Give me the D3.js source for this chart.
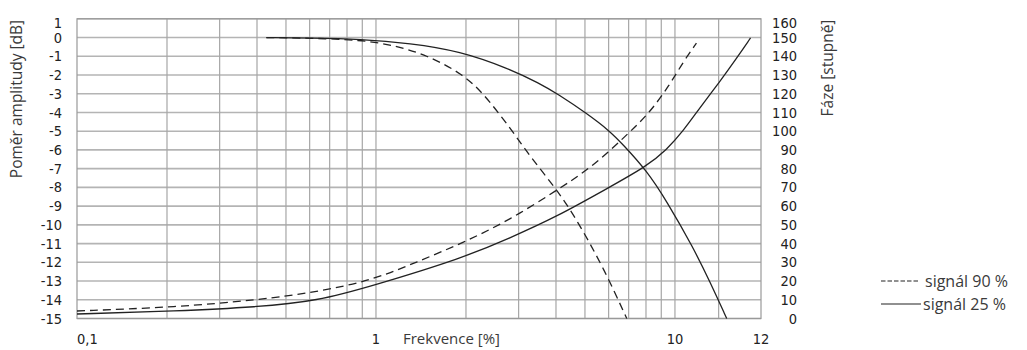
<!DOCTYPE html>
<html>
<head>
<meta charset="utf-8">
<script src="https://cdnjs.cloudflare.com/ajax/libs/d3/7.8.5/d3.min.js"></script>
<style>
    body { margin: 0; background: #fff; }
    .tick { font-family: 'Liberation Sans Narrow', 'Arial Narrow', 'DejaVu Sans Condensed', sans-serif; font-size: 14.5px; fill: #222; }
    .title { font-family: 'Open Sans', 'Noto Sans', sans-serif; font-size: 15.5px; fill: #3a3a3a; }
</style>
</head>
<body>
<svg width="1027" height="350"></svg>
<script>
'use strict'

// frequency [%] vs amplitude [dB] and phase [deg]
let amp90 = [[0.43, 0], [0.6, -0.03], [0.89, -0.13], [1.14, -0.4], [1.48, -0.93], [1.95, -1.95],
    [2.28, -2.96], [2.8, -4.78], [3.29, -6.4], [4.04, -8.14], [4.7, -9.74], [5.75, -12.25], [6.9, -15]];
let amp25 = [[0.43, 0], [0.6, -0.02], [0.89, -0.08], [1.3, -0.3], [1.91, -0.72], [2.76, -1.63],
    [3.53, -2.45], [4.04, -3.0], [5.07, -4.05], [6.06, -5.0], [6.69, -5.7], [8.04, -7.1],
    [9.36, -8.7], [11.5, -11.2], [13.1, -13.05], [14.9, -15]];
let phase90 = [[0.1, 4], [0.216, 6.1], [0.4, 9.9], [0.635, 14.1], [0.98, 20.6], [1.37, 30.2],
    [1.95, 40.3], [2.8, 52.6], [4.04, 68.6], [5.29, 80.9], [6.9, 98], [8.22, 109.7],
    [9.6, 124.7], [10.6, 136.4], [11.8, 147]];
let phase25 = [[0.1, 2.4], [0.216, 4], [0.4, 6.1], [0.635, 9.3], [0.98, 17.6], [1.95, 32.3],
    [2.8, 42.9], [4.04, 54.5], [5.9, 69.2], [8.04, 81.2], [9.36, 90], [10.6, 99.6],
    [12.1, 112.4], [14.1, 126.3], [16.1, 139.1], [17.9, 149.8]];

let xTicks = [0.1, 1, 10, 19.4];
let xTickLabels = ['0,1', '1', '10', '12'];
let xGrid = [0.2, 0.3, 0.4, 0.5, 0.6, 0.7, 0.8, 0.9, 1, 2, 3, 4, 5, 6, 7, 8, 9, 10, 14];
let ampTicks = d3.range(1, -16, -1);
let phaseTicks = d3.range(160, -1, -10);

let legendLabels = ['signál 90 %', 'signál 25 %'];

let svg = d3.select('svg');
let plotLeft = 77, plotRight = 761, plotTop = 18.8, plotBottom = 318.5;

let x = d3.scaleLog().domain([0.1, 19.4]).range([plotLeft, plotRight]);
let yAmp = d3.scaleLinear().domain([-15, 1]).range([plotBottom, plotTop]);
let yPhase = d3.scaleLinear().domain([0, 160]).range([plotBottom, plotTop]);

let grid = svg.append('g');

grid.selectAll('line.h')
    .data(ampTicks)
    .enter().append('line')
    .attr('class', 'h')
    .attr('x1', plotLeft).attr('x2', plotRight)
    .attr('y1', function(d) { return yAmp(d); })
    .attr('y2', function(d) { return yAmp(d); })
    .style('stroke', '#b4b4b4')
    .style('stroke-width', 1.6);

grid.selectAll('line.v')
    .data(xGrid)
    .enter().append('line')
    .attr('class', 'v')
    .attr('x1', function(d) { return x(d); })
    .attr('x2', function(d) { return x(d); })
    .attr('y1', plotTop).attr('y2', plotBottom)
    .style('stroke', '#a6a6a6')
    .style('stroke-width', 1.2);

svg.append('rect')
    .attr('x', plotLeft).attr('y', plotTop)
    .attr('width', plotRight - plotLeft).attr('height', plotBottom - plotTop)
    .style('fill', 'none')
    .style('stroke', '#999')
    .style('stroke-width', 1.2);

// axes labels
svg.append('g').selectAll('text')
    .data(ampTicks)
    .enter().append('text')
    .attr('class', 'tick')
    .attr('x', 62)
    .attr('y', function(d) { return Math.max(yAmp(d), 23); })
    .attr('dy', '0.35em')
    .attr('text-anchor', 'end')
    .text(function(d) { return d; });

svg.append('g').selectAll('text')
    .data(phaseTicks)
    .enter().append('text')
    .attr('class', 'tick')
    .attr('x', 797)
    .attr('y', function(d) { return Math.max(yPhase(d), 23); })
    .attr('dy', '0.35em')
    .attr('text-anchor', 'end')
    .text(function(d) { return d; });

svg.append('g').selectAll('text')
    .data(xTicks)
    .enter().append('text')
    .attr('class', 'tick')
    .attr('x', function(d) { return x(d); })
    .attr('y', 344)
    .attr('text-anchor', function(d, i) { return i === 0 ? 'start' : 'middle'; })
    .text(function(d, i) { return xTickLabels[i]; });

svg.append('text')
    .attr('class', 'title')
    .attr('transform', 'translate(22,99) rotate(-90)')
    .attr('text-anchor', 'middle')
    .text('Poměr amplitudy [dB]');

svg.append('text')
    .attr('class', 'title')
    .attr('transform', 'translate(833,68) rotate(-90)')
    .attr('text-anchor', 'middle')
    .text('Fáze [stupně]');

svg.append('text')
    .attr('class', 'title')
    .attr('x', 403).attr('y', 344)
    .style('font-size', '15px')
    .text('Frekvence [%]');

// curves
let ampLine = d3.line()
    .x(function(d) { return x(d[0]); })
    .y(function(d) { return yAmp(d[1]); })
    .curve(d3.curveBasis);

let phaseLine = d3.line()
    .x(function(d) { return x(d[0]); })
    .y(function(d) { return yPhase(d[1]); })
    .curve(d3.curveBasis);

let curves = [
    { d: ampLine(amp90), dash: '8,5' },
    { d: ampLine(amp25), dash: null },
    { d: phaseLine(phase90), dash: '8,5' },
    { d: phaseLine(phase25), dash: null }
];

svg.append('g').selectAll('path')
    .data(curves)
    .enter().append('path')
    .attr('d', function(d) { return d.d; })
    .style('fill', 'none')
    .style('stroke', '#222')
    .style('stroke-width', 1.3)
    .style('stroke-dasharray', function(d) { return d.dash; });

// legend
let legend = svg.append('g').selectAll('g')
    .data(legendLabels)
    .enter().append('g')
    .attr('transform', function(d, i) { return 'translate(881,' + (281 + i * 23) + ')'; });

legend.append('line')
    .attr('x1', 0).attr('x2', function(d, i) { return i === 0 ? 38 : 40; })
    .style('stroke', '#222')
    .style('stroke-width', 1.1)
    .style('stroke-dasharray', function(d, i) { return i === 0 ? '4.5,2' : null; });

legend.append('text')
    .attr('class', 'title')
    .attr('x', function(d, i) { return i === 0 ? 44 : 42; })
    .attr('y', 6)
    .style('font-size', '16px')
    .text(function(d) { return d; });
</script>
</body>
</html>
